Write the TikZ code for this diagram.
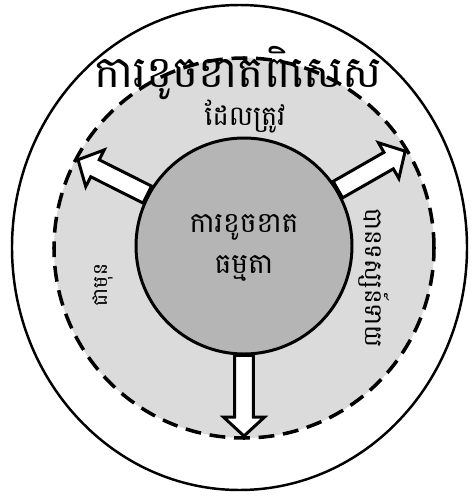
\documentclass[tikz,border=0pt]{standalone}
\usepackage{fontspec}
\newfontfamily\khmer[Script=Khmer]{Battambang}
\usetikzlibrary{calc}
\definecolor{zonegray}{gray}{0.86}
\definecolor{coregray}{gray}{0.71}

\begin{document}
\begin{tikzpicture}[x=0.02cm,y=-0.02cm,
  lbl/.style={font=\khmer,inner sep=0pt,align=center},
  hollow/.style={draw,fill=white,line width=1.7pt,line join=miter,
    to path={let \p1=(\tikztostart),\p2=(\tikztotarget),
      \n1={atan2(\y2-\y1,\x2-\x1)},\n2={veclen(\x2-\x1,\y2-\y1)} in
      ([shift={(\p1)},rotate=\n1]0pt,5.4pt) -- ([shift={(\p1)},rotate=\n1]\n2-10.8pt,5.4pt)
      -- ([shift={(\p1)},rotate=\n1]\n2-10.8pt,11.7pt) -- ([shift={(\p1)},rotate=\n1]\n2,0pt)
      -- ([shift={(\p1)},rotate=\n1]\n2-10.8pt,-11.7pt) -- ([shift={(\p1)},rotate=\n1]\n2-10.8pt,-5.4pt)
      -- ([shift={(\p1)},rotate=\n1]0pt,-5.4pt) -- cycle}}
]
\useasboundingbox (0,0) rectangle (473,497);
\draw[line width=1.4pt] (239.5,247.5) ellipse [x radius=227.5,y radius=242.5];
\node[circle,draw,dash pattern=on 9pt off 5pt,line width=2pt,fill=zonegray,minimum size=380*0.02cm,inner sep=0pt] (zone) at (244,248) {};
\node[circle,draw,line width=1.7pt,fill=coregray,minimum size=216*0.02cm,inner sep=0pt] (core) at (244,246) {};
\coordinate (tipL) at ($(zone.center)+(152:188*0.02cm)$);
\coordinate (tipR) at ($(zone.center)+(31:188*0.02cm)$);
\coordinate (tipB) at ($(zone.center)+(-90:188*0.02cm)$);
\draw[hollow] (core.152) to (tipL);
\draw[hollow] (core.31) to (tipR);
\draw[hollow] (core.-90) to (tipB);
\node[lbl,font=\khmer\fontsize{25}{28}\selectfont] (special) at (238,73) {ការខូចខាតពិសេស};
\node[lbl,font=\khmer\fontsize{15.5}{18}\selectfont] (which) at (245,117) {ដែលត្រូវ};
\node[lbl,font=\khmer\fontsize{16}{23}\selectfont] (ordinary) at (244,248) {ការខូចខាត\\ធម្មតា};
\node[lbl,font=\khmer\fontsize{14}{16}\selectfont,rotate=-90] (foresee) at (374,278) {បានទស្សន៍ទាយ};
\node[lbl,font=\khmer\fontsize{11.5}{14}\selectfont,rotate=90] (before) at (103,285) {ជាមុន};
\end{tikzpicture}
\end{document}
